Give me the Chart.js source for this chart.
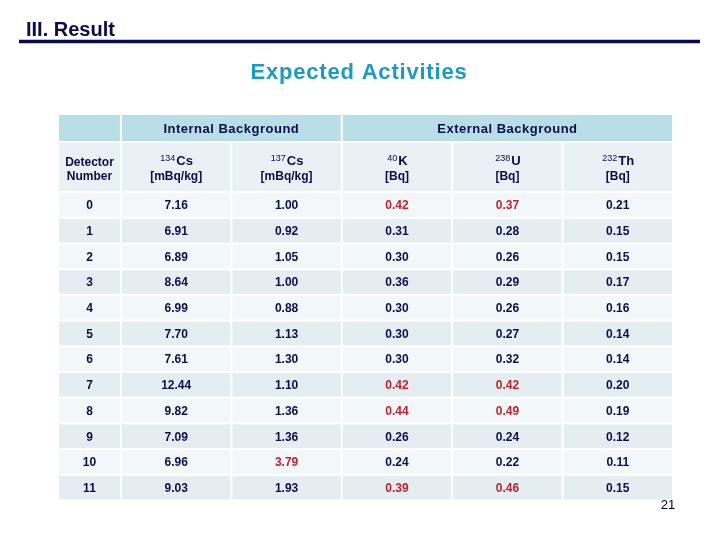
<!DOCTYPE html>
<html>
<head>
<meta charset="utf-8">
<script src="https://cdn.jsdelivr.net/npm/chart.js@4.4.1/dist/chart.umd.min.js"></script>
<style>
  html, body { margin: 0; padding: 0; background: #fff; }
  #wrap { width: 720px; height: 540px; }
</style>
</head>
<body>
<div id="wrap"><canvas id="chart" width="720" height="540"></canvas></div>
<script>
// table data
const detectors = ['0', '1', '2', '3', '4', '5', '6', '7', '8', '9', '10', '11'];
const cs134 = [7.16, 6.91, 6.89, 8.64, 6.99, 7.70, 7.61, 12.44, 9.82, 7.09, 6.96, 9.03];
const cs137 = [1.00, 0.92, 1.05, 1.00, 0.88, 1.13, 1.30, 1.10, 1.36, 1.36, 3.79, 1.93];
const k40 = [0.42, 0.31, 0.30, 0.36, 0.30, 0.30, 0.30, 0.42, 0.44, 0.26, 0.24, 0.39];
const u238 = [0.37, 0.28, 0.26, 0.29, 0.26, 0.27, 0.32, 0.42, 0.49, 0.24, 0.22, 0.46];
const th232 = [0.21, 0.15, 0.15, 0.17, 0.16, 0.14, 0.14, 0.20, 0.19, 0.12, 0.11, 0.15];

// rows shown in red, per column
const cs134Red = [];
const cs137Red = [10];
const k40Red = [0, 7, 8, 11];
const u238Red = [0, 7, 8, 11];
const th232Red = [];

const isoMass = ['134', '137', '40', '238', '232'];
const isoName = ['Cs', 'Cs', 'K', 'U', 'Th'];
const isoUnit = ['[mBq/kg]', '[mBq/kg]', '[Bq]', '[Bq]', '[Bq]'];
const groupLabels = ['Internal Background', 'External Background'];
const groupCols = [[1, 2], [3, 5]];

const valueCols = [cs134, cs137, k40, u238, th232];
const redCols = [cs134Red, cs137Red, k40Red, u238Red, th232Red];

// layout (scale units)
const COL0 = 0.57;       // first column is narrower
const HEAD1 = 1.09;      // group header height
const HEAD2 = 1.95;      // isotope header height
const DATA_TOP = HEAD1 + HEAD2;

const colStart = i => i === 0 ? 0 : COL0 + (i - 1);
const colStop = i => COL0 + i;
const colMid = i => (colStart(i) + colStop(i)) / 2;
const rowMid = r => DATA_TOP + r + 0.5;

const FONT = '"Liberation Sans", Arial, sans-serif';
const NAVY = '#0d0d4d';
const RED = '#c0222c';
const colors = {
    head: '#badee5',
    sub: '#e8f1f4',
    even: '#f2f7f9',
    odd: '#e4eef1'
};

const tablePlugin = {
    id: 'tableCells',
    beforeDatasetsDraw(chart) {
        const ctx = chart.ctx;
        const xs = chart.scales.x, ys = chart.scales.y;
        const cell = (c0, c1, y0, y1, fill) => {
            const a = xs.getPixelForValue(colStart(c0)) + 1;
            const b = xs.getPixelForValue(colStop(c1)) - 1;
            const t = ys.getPixelForValue(y0) + 1;
            const u = ys.getPixelForValue(y1) - 1;
            ctx.fillStyle = fill;
            ctx.fillRect(a, t, b - a, u - t);
        };
        ctx.save();
        cell(0, 0, 0, HEAD1, colors.head);
        groupCols.forEach(g => cell(g[0], g[1], 0, HEAD1, colors.head));
        for (let c = 0; c < 6; c++) cell(c, c, HEAD1, DATA_TOP, colors.sub);
        detectors.forEach((d, r) => {
            for (let c = 0; c < 6; c++) {
                cell(c, c, DATA_TOP + r, DATA_TOP + r + 1, r % 2 ? colors.odd : colors.even);
            }
        });
        ctx.restore();
    },
    afterDatasetsDraw(chart) {
        const ctx = chart.ctx;
        const xs = chart.scales.x, ys = chart.scales.y;
        ctx.save();
        ctx.fillStyle = NAVY;
        ctx.textAlign = 'center';

        // group headers
        ctx.textBaseline = 'middle';
        ctx.font = 'bold 13px ' + FONT;
        ctx.letterSpacing = '0.5px';
        groupLabels.forEach((lab, i) => {
            const g = groupCols[i];
            const x = (xs.getPixelForValue(colStart(g[0])) + xs.getPixelForValue(colStop(g[1]))) / 2;
            ctx.fillText(lab, x, ys.getPixelForValue(HEAD1 / 2) + 1);
        });
        ctx.letterSpacing = '0px';

        // isotope header row
        const hTop = ys.getPixelForValue(HEAD1);
        ctx.textBaseline = 'alphabetic';
        ctx.font = 'bold 12px ' + FONT;
        const x0 = xs.getPixelForValue(colMid(0));
        ctx.fillText('Detector', x0, hTop + 24);
        ctx.fillText('Number', x0, hTop + 38);
        isoName.forEach((name, i) => {
            const cx = xs.getPixelForValue(colMid(i + 1));
            ctx.font = '9px ' + FONT;
            const ws = ctx.measureText(isoMass[i]).width;
            ctx.font = 'bold 13px ' + FONT;
            const wn = ctx.measureText(name).width;
            const start = cx - (ws + wn) / 2;
            ctx.textAlign = 'left';
            ctx.font = '9px ' + FONT;
            ctx.fillText(isoMass[i], start, hTop + 19);
            ctx.font = 'bold 13px ' + FONT;
            ctx.fillText(name, start + ws + 1, hTop + 23);
            ctx.textAlign = 'center';
            ctx.font = 'bold 12px ' + FONT;
            ctx.fillText(isoUnit[i], cx, hTop + 38);
        });

        // data cells, positioned by the dataset points
        ctx.textBaseline = 'middle';
        ctx.font = 'bold 12px ' + FONT;
        chart.data.datasets.forEach((ds, di) => {
            const meta = chart.getDatasetMeta(di);
            meta.data.forEach((pt, r) => {
                let txt, red = false;
                if (di === 0) {
                    txt = detectors[r];
                } else {
                    txt = valueCols[di - 1][r].toFixed(2);
                    red = redCols[di - 1].includes(r);
                }
                ctx.fillStyle = red ? RED : NAVY;
                ctx.fillText(txt, pt.x, pt.y + 1);
            });
        });
        ctx.restore();
    },
    afterDraw(chart) {
        const ctx = chart.ctx;
        ctx.save();
        ctx.fillStyle = '#0a0a4e';
        ctx.textAlign = 'left';
        ctx.textBaseline = 'alphabetic';
        ctx.font = 'bold 20px ' + FONT;
        ctx.fillText('III. Result', 26, 36);
        ctx.strokeStyle = '#0a0a4e';
        ctx.lineWidth = 3.5;
        ctx.beginPath();
        ctx.moveTo(19, 41.5);
        ctx.lineTo(700, 41.5);
        ctx.stroke();
        ctx.fillStyle = '#1c9ac0';
        ctx.textAlign = 'center';
        ctx.font = 'bold 22px ' + FONT;
        ctx.letterSpacing = '0.8px';
        ctx.fillText('Expected Activities', 359, 79);
        ctx.letterSpacing = '0px';
        ctx.fillStyle = '#000';
        ctx.font = '13px ' + FONT;
        ctx.fillText('21', 668, 509);
        ctx.restore();
    }
};

const columnData = [detectors, cs134, cs137, k40, u238, th232];
const datasets = columnData.map((col, c) => ({
    label: 'col' + c,
    data: col.map((v, r) => ({ x: colMid(c), y: rowMid(r) })),
    pointRadius: 0,
    showLine: false
}));

new Chart(document.getElementById('chart'), {
    type: 'scatter',
    data: { datasets },
    options: {
        responsive: false,
        animation: false,
        layout: { padding: { left: 58, right: 47, top: 114, bottom: 39.5 } },
        plugins: {
            legend: { display: false },
            tooltip: { enabled: false },
            title: { display: false }
        },
        scales: {
            x: { type: 'linear', min: 0, max: colStop(5), display: false },
            y: { type: 'linear', min: 0, max: DATA_TOP + detectors.length, reverse: true, display: false }
        }
    },
    plugins: [tablePlugin]
});
</script>
</body>
</html>
